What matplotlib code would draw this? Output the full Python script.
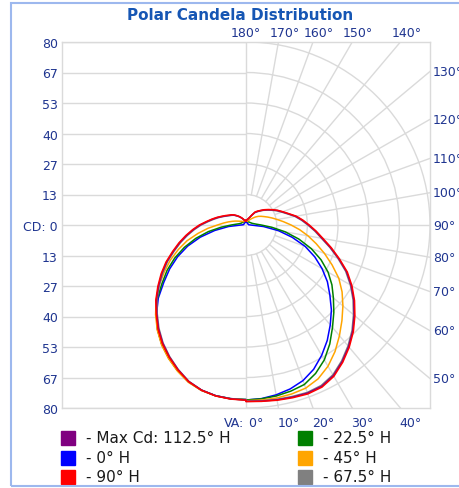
import matplotlib
matplotlib.use("Agg")
import matplotlib.pyplot as plt
from matplotlib.patches import Arc, Rectangle
import numpy as np

# vertical angles (deg), 0 = straight down, 180 = straight up
va = list(range(0, 181, 5))

# candela values, right half (plane H) and left half (plane H+180)
blue_r = [76.5, 76.2, 75.4, 74.2, 72.4, 69.6, 65.8, 61.6, 57.0, 52.5, 47.6, 43.2, 38.2, 33.0, 27.4, 20.8, 14.4, 7.6, 2.0,
          1.2, 1.0, 1.0, 1.0, 1.0, 1.0, 1.0, 1.0, 1.0, 1.0, 1.0, 1.1, 1.2, 1.3, 1.4, 1.5, 1.5, 1.5]
blue_l = [76.3, 76.2, 75.8, 74.8, 73.0, 70.3, 67.2, 63.8, 59.8, 55.0, 49.8, 43.6, 38.3, 32.8, 27.0, 20.6, 13.8, 7.6, 2.2,
          1.3, 1.1, 1.0, 1.0, 1.0, 1.0, 1.0, 1.0, 1.0, 1.0, 1.0, 1.1, 1.2, 1.3, 1.4, 1.5, 1.5, 1.5]
green_r = [76.5, 76.3, 75.9, 75.2, 74.2, 71.6, 68.1, 63.5, 58.5, 54.0, 49.6, 45.6, 41.2, 36.0, 30.2, 23.8, 17.4, 11.2, 6.6,
           4.4, 3.4, 2.8, 2.5, 2.3, 2.1, 2.0, 1.9, 1.8, 1.8, 1.7, 1.7, 1.7, 1.7, 1.7, 1.7, 1.7, 1.7]
green_l = [76.3, 76.2, 75.8, 74.8, 73.0, 70.3, 67.2, 63.8, 59.8, 55.2, 50.4, 44.6, 39.6, 34.2, 28.5, 22.6, 16.6, 10.8, 6.4,
           4.2, 3.1, 2.6, 2.3, 2.1, 2.0, 1.9, 1.8, 1.8, 1.7, 1.7, 1.7, 1.7, 1.7, 1.7, 1.7, 1.7, 1.7]
orange_r = [76.8, 76.8, 76.8, 76.5, 75.9, 74.2, 71.3, 67.5, 63.2, 59.0, 55.0, 51.0, 46.6, 41.3, 36.3, 31.6, 27.4, 23.4, 19.6,
            16.4, 13.8, 11.8, 10.1, 8.7, 7.6, 6.6, 5.5, 4.4, 3.5, 2.8, 2.3, 2.0, 1.8, 1.7, 1.7, 1.7, 1.7]
orange_l = [76.4, 76.3, 75.9, 74.9, 73.2, 70.5, 67.4, 64.0, 60.0, 55.6, 51.0, 46.2, 41.0, 36.3, 31.3, 26.5, 21.2, 16.6, 12.4,
            9.8, 7.8, 6.2, 5.0, 4.0, 3.3, 2.8, 2.5, 2.2, 2.0, 1.9, 1.8, 1.7, 1.7, 1.7, 1.7, 1.7, 1.7]
red_r = [77.2, 77.4, 77.8, 78.2, 78.6, 78.2, 76.4, 73.3, 69.8, 66.0, 61.8, 57.6, 53.2, 48.6, 43.2, 38.4, 34.0, 30.6, 27.5,
         24.8, 22.2, 19.2, 17.0, 15.2, 13.4, 11.8, 10.4, 9.0, 8.0, 7.0, 5.0, 3.6, 3.0, 2.6, 2.3, 2.2, 2.2]
red_l = [76.6, 76.4, 75.9, 74.8, 72.9, 70.0, 66.8, 63.4, 59.5, 55.2, 51.2, 46.8, 42.6, 38.4, 34.0, 30.2, 26.6, 23.3, 20.3,
         17.3, 15.0, 13.0, 11.2, 9.8, 8.6, 7.8, 6.9, 5.9, 5.0, 4.2, 3.5, 2.9, 2.4, 2.0, 1.8, 1.7, 1.7]
gray_r = [77.0, 77.1, 77.4, 77.6, 77.9, 77.4, 75.6, 72.5, 69.0, 65.2, 61.0, 56.8, 52.4, 47.8, 42.5, 37.7, 33.3, 30.0, 26.9,
          24.2, 21.6, 18.7, 16.5, 14.7, 12.9, 11.3, 10.0, 8.7, 7.6, 6.6, 4.8, 3.5, 2.9, 2.5, 2.2, 2.1, 2.1]
gray_l = [76.5, 76.3, 75.8, 74.7, 72.7, 69.7, 66.4, 62.9, 58.9, 54.6, 50.5, 46.0, 41.8, 37.6, 33.2, 29.4, 25.8, 22.5, 19.5,
          16.6, 14.3, 12.4, 10.7, 9.3, 8.2, 7.4, 6.6, 5.6, 4.8, 4.0, 3.3, 2.8, 2.3, 1.9, 1.8, 1.7, 1.7]
purple_r = [77.1, 77.3, 77.6, 77.9, 78.2, 77.8, 76.0, 72.9, 69.4, 65.6, 61.4, 57.2, 52.8, 48.2, 42.9, 38.0, 33.6, 30.3, 27.2,
            24.5, 21.9, 19.0, 16.8, 15.0, 13.2, 11.6, 10.2, 8.9, 7.7, 6.7, 4.9, 3.6, 2.9, 2.5, 2.2, 2.1, 2.1]
purple_l = [76.5, 76.3, 75.8, 74.7, 72.8, 69.8, 66.6, 63.1, 59.2, 54.9, 50.8, 46.4, 42.2, 38.0, 33.6, 29.8, 26.2, 22.9, 19.9,
            17.0, 14.7, 12.7, 10.9, 9.5, 8.4, 7.6, 6.7, 5.7, 4.9, 4.1, 3.4, 2.8, 2.3, 2.0, 1.8, 1.7, 1.7]

cd_ticks = ['80', '67', '53', '40', '27', '13', 'CD: 0', '13', '27', '40', '53', '67', '80']
top_angles = [180, 170, 160, 150, 140]
side_angles = [130, 120, 110, 100, 90, 80, 70, 60, 50]
bottom_angles = [10, 20, 30, 40]

legend_left = [('- Max Cd: 112.5° H', '#800080'), ('- 0° H', '#0000ff'), ('- 90° H', '#ff0000')]
legend_right = [('- 22.5° H', '#008000'), ('- 45° H', '#ffa500'), ('- 67.5° H', '#808080')]

GRID = '#dadada'
NAVY = '#1f3590'


def curve(r_left, r_right):
    a = np.radians(va)
    rl = np.array(r_left)
    rr = np.array(r_right)
    x = np.concatenate([(-rl * np.sin(a))[::-1], rr * np.sin(a)])
    y = np.concatenate([(-rl * np.cos(a))[::-1], -rr * np.cos(a)])
    return x, y


def main():
    W, H = 460, 489
    fig = plt.figure(figsize=(W / 100, H / 100), dpi=100)
    ax = fig.add_axes([62 / W, 1 - 409 / H, 368 / W, 366 / H])
    ax.set_xlim(-80, 80)
    ax.set_ylim(-80, 80)
    for s in ax.spines.values():
        s.set_color(GRID)
        s.set_linewidth(1.0)
    ax.set_xticks([])

    ticks = np.linspace(-80, 80, 13)
    ax.set_yticks(ticks)
    ax.set_yticklabels(cd_ticks[::-1], color=NAVY, fontsize=9)
    ax.tick_params(axis='y', length=0, pad=3)

    # grid: horizontal lines on the left, polar grid on the right
    ax.hlines(ticks, -80, 0, color=GRID, lw=1.0, zorder=1)
    ax.axvline(0, color=GRID, lw=1.0, zorder=1)
    step = 80 / 6
    for k in range(1, 7):
        ax.add_patch(Arc((0, 0), 2 * k * step, 2 * k * step, theta1=-90, theta2=90,
                         color=GRID, lw=1.0, zorder=1))
    for ang in range(10, 180, 10):
        a = np.radians(ang)
        ax.plot([step * np.sin(a), 200 * np.sin(a)], [-step * np.cos(a), -200 * np.cos(a)],
                color=GRID, lw=1.0, zorder=1)

    # angle labels
    for ang in top_angles:
        x = 80 * np.tan(np.radians(180 - ang))
        if ang != 180:
            x += 2.6
        ax.text(x, 81.2, f'{ang}°', ha='center', va='bottom', color=NAVY, fontsize=9, clip_on=False)
    for ang in side_angles:
        y = -80 / np.tan(np.radians(ang))
        ax.text(81.3, y, f'{ang}°', ha='left', va='center', color=NAVY, fontsize=9, clip_on=False)
    ax.text(-0.6, -83.5, 'VA:', ha='right', va='top', color=NAVY, fontsize=9, clip_on=False)
    ax.text(-0.4, -83.5, ' 0°', ha='left', va='top', color=NAVY, fontsize=9, clip_on=False)
    for ang in bottom_angles:
        x = 80 * np.tan(np.radians(ang))
        ax.text(x - 0.3, -83.5, f'{ang}°', ha='left', va='top', color=NAVY, fontsize=9, clip_on=False)

    # candela curves
    series = [(blue_l, blue_r, '#0000ff'), (green_l, green_r, '#008000'),
              (orange_l, orange_r, '#ffa500'), (gray_l, gray_r, '#808080'),
              (purple_l, purple_r, '#800080'), (red_l, red_r, '#ff0000')]
    for rl, rr, c in series:
        x, y = curve(rl, rr)
        ax.plot(x, y, color=c, lw=1.1, zorder=3)

    fig.text(240 / W, 1 - 16 / H, 'Polar Candela Distribution', ha='center', va='center',
             fontsize=11, fontweight='bold', color='#1656b4')

    # legend
    rows = [439, 459, 478]
    for col, items in ((61, legend_left), (298, legend_right)):
        for yy, (lab, c) in zip(rows, items):
            fig.add_artist(Rectangle((col / W, 1 - (yy + 7) / H), 14 / W, 14 / H,
                                     transform=fig.transFigure, color=c))
            fig.text((col + 25) / W, 1 - yy / H, lab, ha='left', va='center', fontsize=11, color='#1a1a1a')

    # outer border (right side runs off the image)
    fig.add_artist(Rectangle((11 / W, 1 - 487 / H), 500 / W, 483 / H, transform=fig.transFigure,
                             fill=False, edgecolor='#9db8ee', lw=1.5))

    fig.savefig('out.png', dpi=100)


if __name__ == "__main__":
    main()
